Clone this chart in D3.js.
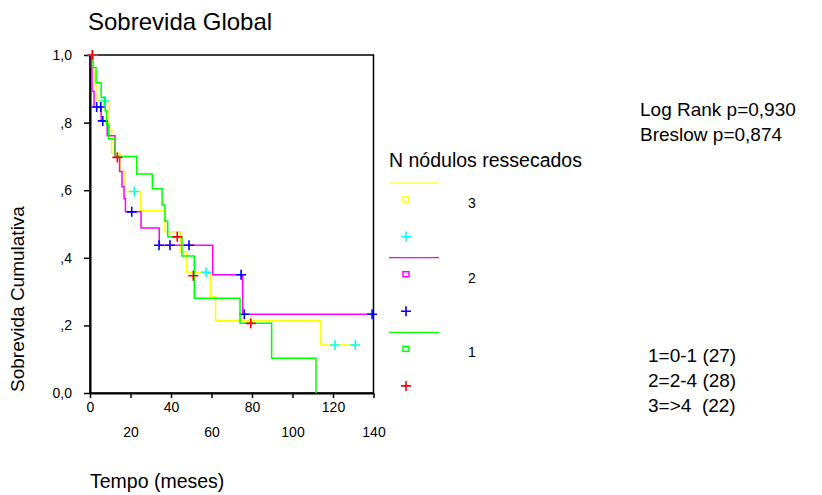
<!DOCTYPE html>
<html>
<head>
<meta charset="utf-8">
<script src="https://cdn.jsdelivr.net/npm/d3@7"></script>
<style>
  body { margin: 0; background: #fff; }
  text { font-family: Arial, 'Liberation Sans', sans-serif; fill: #000; }
</style>
</head>
<body>
<div id="chart"></div>
<script>
// dados: [tempo (meses), sobrevida acumulada]
const grupos = ['3', '2', '1'];
const rotulosGrupos = ['1=0-1 (27)', '2=2-4 (28)', '3=>4  (22)'];
const testes = ['Log Rank p=0,930', 'Breslow p=0,874'];

const passosGrupo1 = [[0, 1], [1.5, 0.963], [3, 0.918], [5.5, 0.874], [7.5, 0.835], [8.2, 0.795], [9.2, 0.752],
  [12.4, 0.70], [23.1, 0.648], [30.8, 0.604], [35.6, 0.556], [37, 0.508], [38.4, 0.462], [45.4, 0.405],
  [51.5, 0.28], [74.1, 0.206], [89.7, 0.103], [111.6, 0]];
const censurasGrupo1 = [[1.1, 1], [13.5, 0.697], [43.1, 0.462], [51, 0.347], [79.4, 0.206]];

const passosGrupo2 = [[0, 1], [0.7, 0.964], [1, 0.893], [2, 0.846], [5.5, 0.805], [8.5, 0.761], [12.3, 0.70],
  [14.6, 0.655], [15.8, 0.61], [16.8, 0.575], [17.5, 0.536], [25.2, 0.488], [34.2, 0.437], [60.6, 0.35],
  [75.4, 0.233], [139.3, 0.233]];
const censurasGrupo2 = [[3.3, 0.846], [5.3, 0.846], [6.3, 0.805], [20.6, 0.536], [34.1, 0.437], [39.5, 0.437],
  [48.9, 0.437], [74.6, 0.35], [76.2, 0.233], [139.3, 0.233]];

const passosGrupo3 = [[0, 1], [1.5, 0.955], [2.5, 0.909], [3.5, 0.864], [9.5, 0.78], [10.7, 0.709], [14.8, 0.655],
  [17.3, 0.596], [25, 0.539], [37, 0.477], [44.7, 0.418], [47.8, 0.357], [59.6, 0.285], [62, 0.214],
  [114, 0.142], [131, 0.142]];
const censurasGrupo3 = [[1.3, 1], [7, 0.864], [21.9, 0.596], [57.3, 0.357], [121, 0.142], [131, 0.142]];

const xTicks = [0, 20, 40, 60, 80, 100, 120, 140];
const yTicks = [0, 0.2, 0.4, 0.6, 0.8, 1];
const yTickLabels = ['0,0', ',2', ',4', ',6', ',8', '1,0'];

const width = 822;
const height = 495;
const plot = { left: 90, top: 55, right: 373.5, bottom: 393 };

const svg = d3.select('#chart')
  .append('svg')
  .attr('width', width)
  .attr('height', height)
  .style('background-color', '#fff');

const x = d3.scaleLinear([0, 140], [plot.left, plot.right]);
const y = d3.scaleLinear([0, 1], [plot.bottom, plot.top]);

// moldura (topo e direita)
svg.append('rect')
  .attr('x', plot.left)
  .attr('y', plot.top)
  .attr('width', plot.right - plot.left)
  .attr('height', plot.bottom - plot.top)
  .attr('fill', 'none')
  .attr('stroke', '#000')
  .attr('stroke-width', 1.5);

// eixos
const axisX = d3.axisBottom(x).tickValues(xTicks).tickSize(5).tickSizeOuter(0);
const gx = svg.append('g')
  .attr('transform', `translate(0, ${plot.bottom})`)
  .call(axisX);
gx.selectAll('text')
  .attr('y', (d, i) => i % 2 ? 34 : 9)
  .style('font-size', '14px');

const axisY = d3.axisLeft(y).tickValues(yTicks).tickSize(6).tickPadding(12).tickSizeOuter(0)
  .tickFormat((d, i) => yTickLabels[i]);
const gy = svg.append('g')
  .attr('transform', `translate(${plot.left}, 0)`)
  .call(axisY);
gy.selectAll('text').style('font-size', '14px');

svg.selectAll('.domain').attr('stroke', '#000').attr('stroke-width', 2);
svg.selectAll('.tick line').attr('stroke', '#000').attr('stroke-width', 1.5);

// curvas
const series = [
  { passos: passosGrupo3, censuras: censurasGrupo3, cor: '#ffff00', corCensura: '#00ffff' },
  { passos: passosGrupo2, censuras: censurasGrupo2, cor: '#ff00ff', corCensura: '#0000ff' },
  { passos: passosGrupo1, censuras: censurasGrupo1, cor: '#00ff00', corCensura: '#ff0000' },
];

const linha = d3.line()
  .x(d => x(d[0]))
  .y(d => y(d[1]))
  .curve(d3.curveStepAfter);

const cruz = (g, cx, cy, cor, r) => {
  g.append('path')
    .attr('d', `M${cx - r},${cy}H${cx + r}M${cx},${cy - r}V${cy + r}`)
    .attr('stroke', cor)
    .attr('stroke-width', 1.6)
    .attr('fill', 'none');
};

series.forEach(s => {
  svg.append('path')
    .datum(s.passos)
    .attr('d', linha)
    .attr('fill', 'none')
    .attr('stroke', s.cor)
    .attr('stroke-width', 1.5);
  const g = svg.append('g');
  s.censuras.forEach(c => cruz(g, x(c[0]), y(c[1]), s.corCensura, 5));
});

// titulos
svg.append('text')
  .attr('x', 88)
  .attr('y', 30)
  .style('font-size', '24px')
  .text('Sobrevida Global');

svg.append('text')
  .attr('transform', 'translate(24, 299) rotate(-90)')
  .attr('text-anchor', 'middle')
  .style('font-size', '19px')
  .text('Sobrevida Cumulativa');

svg.append('text')
  .attr('x', 90)
  .attr('y', 488)
  .style('font-size', '19.5px')
  .text('Tempo (meses)');

// legenda
const leg = svg.append('g').attr('transform', 'translate(389, 0)');
leg.append('text')
  .attr('x', 0)
  .attr('y', 167)
  .style('font-size', '19.5px')
  .text('N nódulos ressecados');

series.forEach((s, i) => {
  const y0 = 183 + i * 74.7;
  leg.append('line')
    .attr('x1', 0).attr('x2', 50)
    .attr('y1', y0).attr('y2', y0)
    .attr('stroke', s.cor)
    .attr('stroke-width', 1.2);
  leg.append('rect')
    .attr('x', 14).attr('y', y0 + 14)
    .attr('width', 6).attr('height', 5)
    .attr('fill', 'none')
    .attr('stroke', s.cor)
    .attr('stroke-width', 1.5);
  leg.append('text')
    .attr('x', 79)
    .attr('y', y0 + 25)
    .style('font-size', '14px')
    .text(grupos[i]);
  cruz(leg, 17, y0 + 53.5, s.corCensura, 5);
});

// testes e grupos
svg.selectAll('.teste')
  .data(testes)
  .enter()
  .append('text')
  .attr('class', 'teste')
  .attr('x', 640)
  .attr('y', (d, i) => 116 + i * 25)
  .style('font-size', '19px')
  .text(d => d);

svg.selectAll('.grupo')
  .data(rotulosGrupos)
  .enter()
  .append('text')
  .attr('class', 'grupo')
  .attr('x', 648)
  .attr('y', (d, i) => 362 + i * 25)
  .style('font-size', '19px')
  .style('white-space', 'pre')
  .text(d => d);
</script>
</body>
</html>
